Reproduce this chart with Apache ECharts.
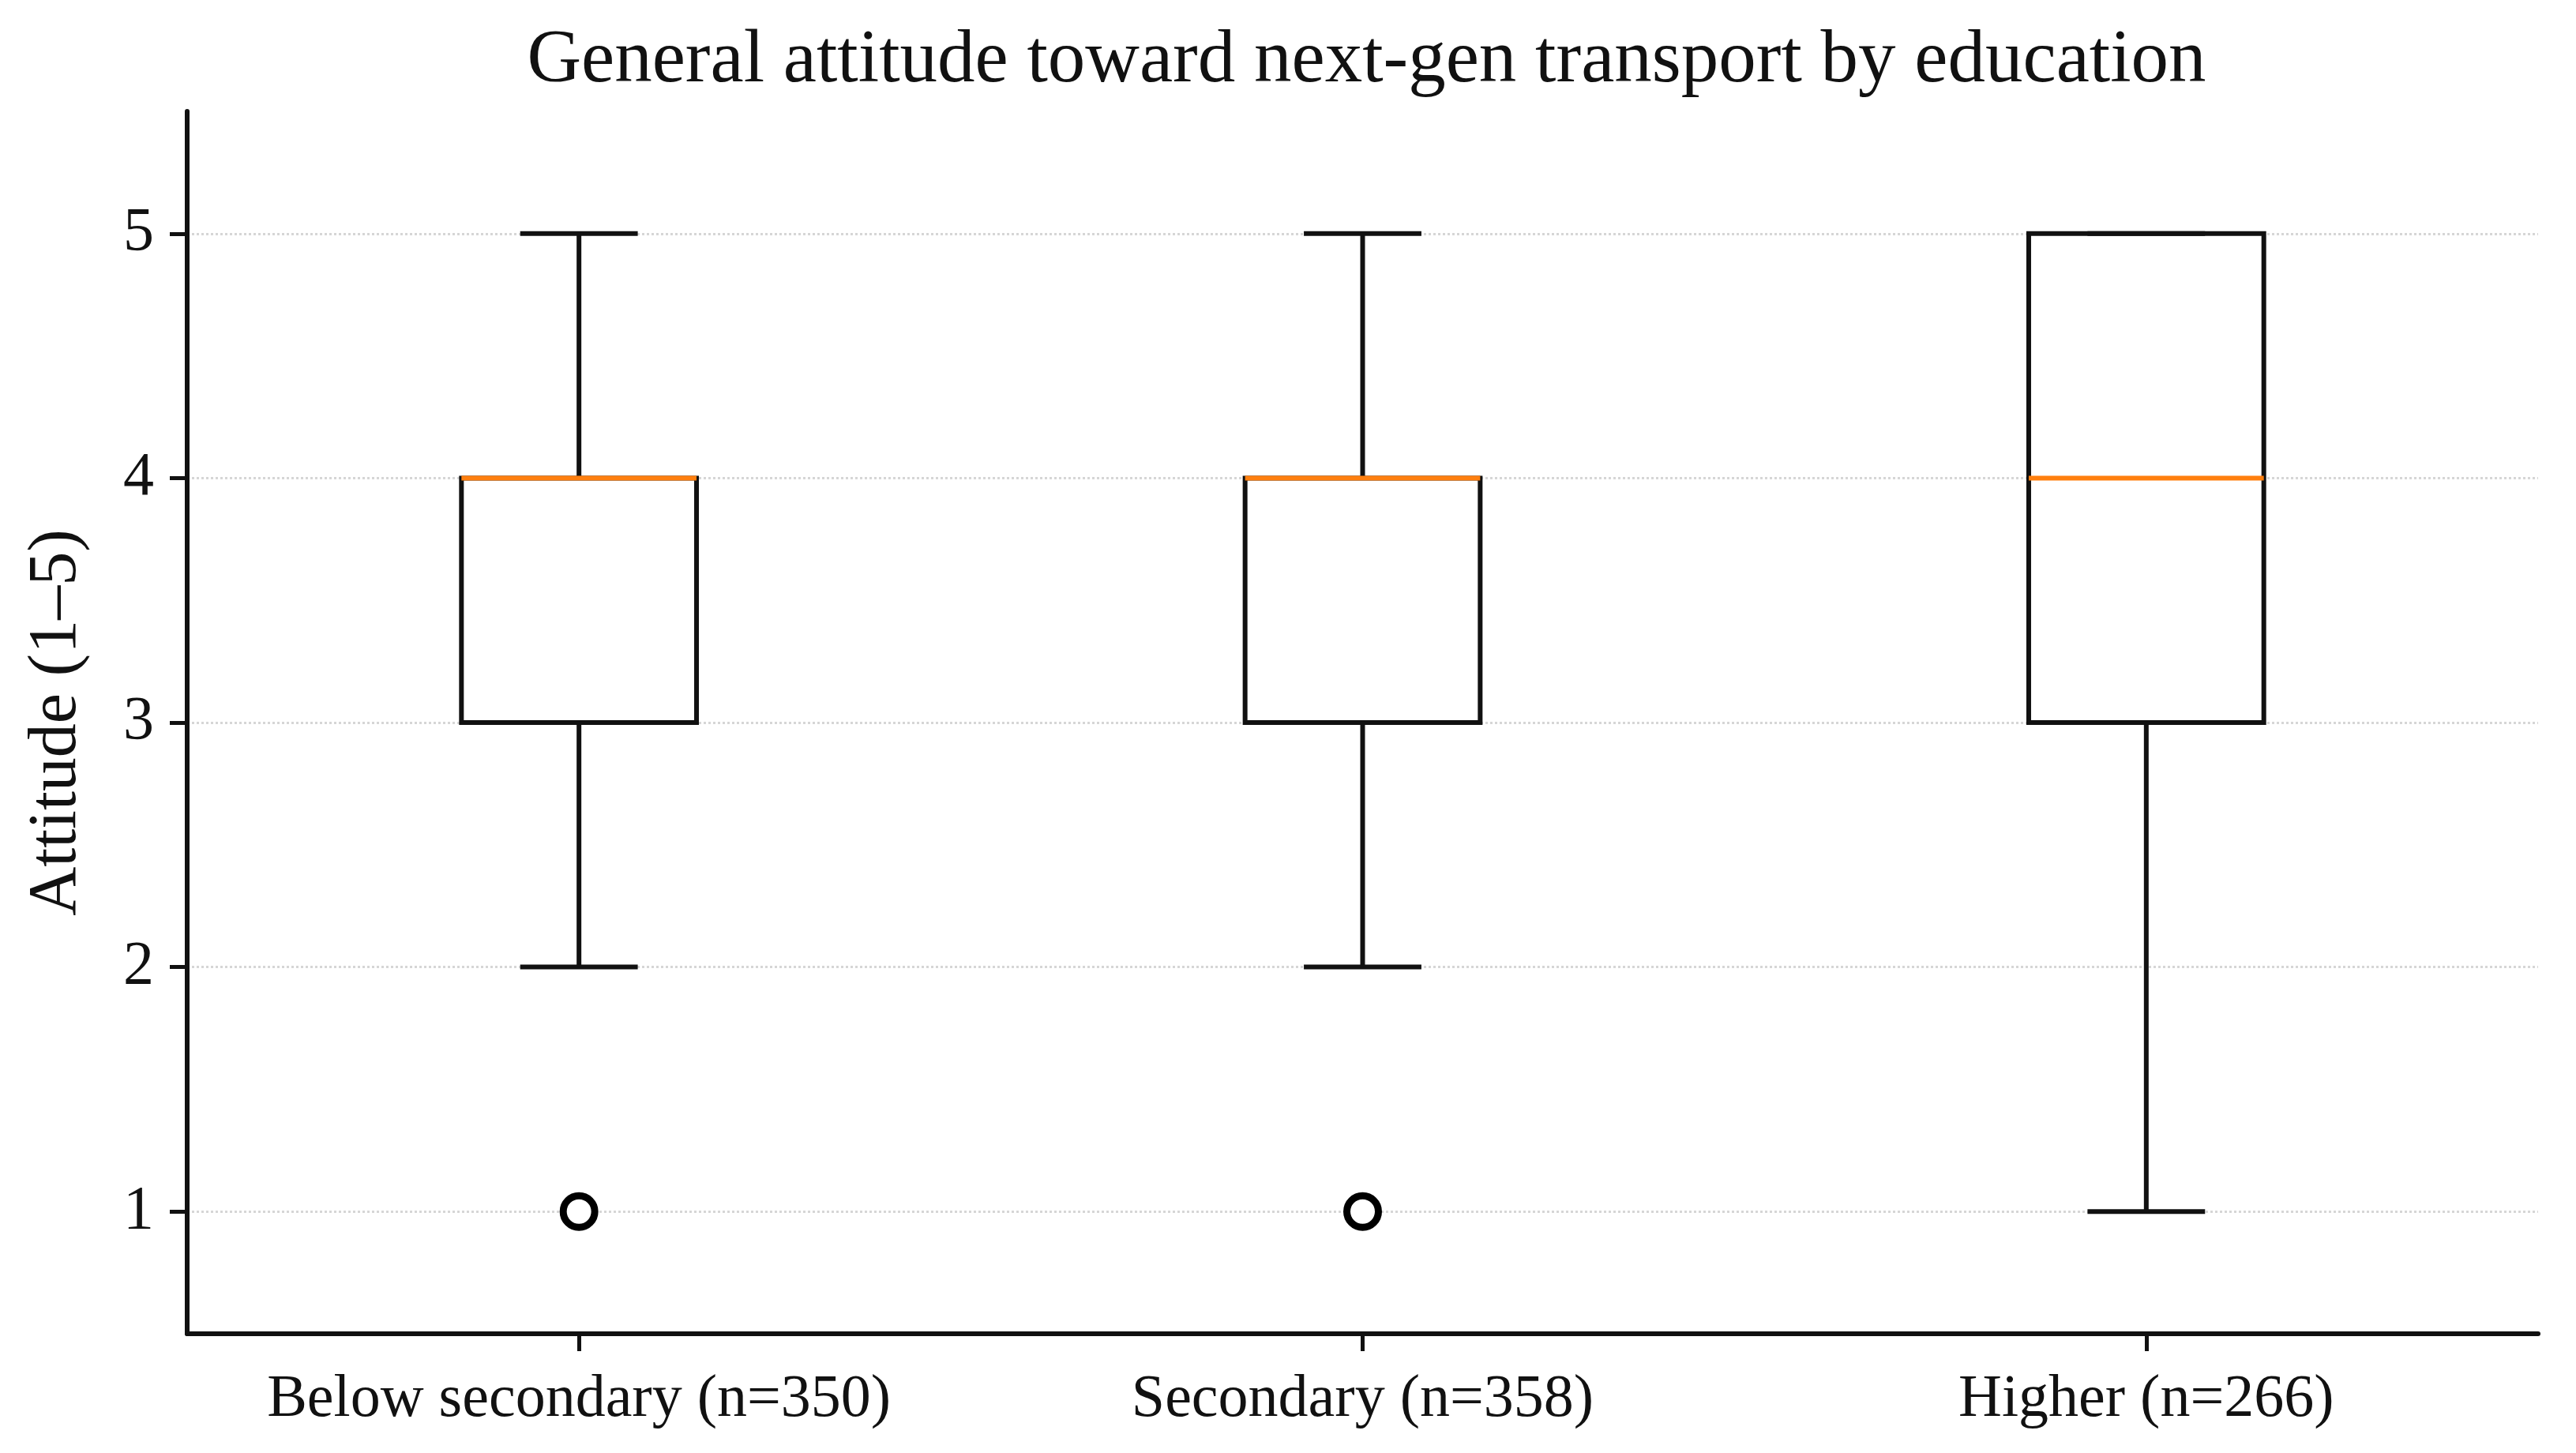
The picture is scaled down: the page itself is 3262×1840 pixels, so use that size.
<!DOCTYPE html>
<html>
<head>
<meta charset="utf-8">
<script src="https://cdn.jsdelivr.net/npm/echarts@6/dist/echarts.min.js"></script>
<style>
html,body{margin:0;padding:0;background:#fff;}
#chart{width:3262px;height:1840px;}
</style>
</head>
<body>
<div id="chart"></div>
<script>
// ---- data ----
const categories = ['Below secondary (n=350)', 'Secondary (n=358)', 'Higher (n=266)'];
const whiskerLow = [2, 2, 1];
const q1 = [3, 3, 3];
const median = [4, 4, 4];
const q3 = [4, 4, 5];
const whiskerHigh = [5, 5, 5];
const outliers = [[0, 1], [1, 1]]; // [category index, value]
const yTicks = [1, 2, 3, 4, 5];

const FONT = 'Liberation Serif';
const boxData = categories.map((c, i) => [i, whiskerLow[i], q1[i], median[i], q3[i], whiskerHigh[i]]);

const GRID = {left: 237, right: 48, top: 141, bottom: 151};
const W = 3262;
const plotCenter = GRID.left + (W - GRID.left - GRID.right) / 2;

const chart = echarts.init(document.getElementById('chart'), null, {renderer: 'canvas'});

function renderBox(params, api) {
  const idx = api.value(0);
  const band = api.size([1, 0])[0];
  const boxW = band * 0.30;
  const capW = band * 0.15;
  const pLow = api.coord([idx, api.value(1)]);
  const pQ1 = api.coord([idx, api.value(2)]);
  const pMed = api.coord([idx, api.value(3)]);
  const pQ3 = api.coord([idx, api.value(4)]);
  const pHigh = api.coord([idx, api.value(5)]);
  const x = pLow[0];
  const black = {stroke: '#111', lineWidth: 6, fill: null};
  return {
    type: 'group',
    children: [
      {type: 'line', shape: {x1: x, y1: pLow[1], x2: x, y2: pQ1[1]}, style: black},
      {type: 'line', shape: {x1: x, y1: pQ3[1], x2: x, y2: pHigh[1]}, style: black},
      {type: 'line', shape: {x1: x - capW / 2, y1: pLow[1], x2: x + capW / 2, y2: pLow[1]}, style: black},
      {type: 'line', shape: {x1: x - capW / 2, y1: pHigh[1], x2: x + capW / 2, y2: pHigh[1]}, style: black},
      {type: 'rect', shape: {x: x - boxW / 2, y: pQ3[1], width: boxW, height: pQ1[1] - pQ3[1]}, style: {stroke: '#111', lineWidth: 6, fill: 'none'}},
      {type: 'line', shape: {x1: x - boxW / 2, y1: pMed[1], x2: x + boxW / 2, y2: pMed[1]}, style: {stroke: '#ff7f0e', lineWidth: 6}}
    ]
  };
}

chart.setOption({
  animation: false,
  backgroundColor: '#fff',
  title: {
    text: 'General attitude toward next-gen transport by education',
    left: plotCenter,
    textAlign: 'center',
    top: 26,
    textStyle: {fontFamily: FONT, fontSize: 95, fontWeight: 'normal', color: '#111'}
  },
  grid: {left: GRID.left, right: GRID.right, top: GRID.top, bottom: GRID.bottom, containLabel: false},
  xAxis: {
    type: 'category',
    data: categories,
    boundaryGap: true,
    axisLine: {show: true, lineStyle: {color: '#111', width: 6}},
    axisTick: {show: true, alignWithLabel: true, length: 22, lineStyle: {color: '#111', width: 5}},
    axisLabel: {fontFamily: FONT, fontSize: 76, color: '#111', margin: 46, interval: 0},
    splitLine: {show: false}
  },
  yAxis: {
    type: 'value',
    min: 0.5,
    max: 5.5,
    name: 'Attitude (1–5)',
    nameLocation: 'middle',
    nameGap: 122,
    nameTextStyle: {fontFamily: FONT, fontSize: 86, color: '#111'},
    axisLine: {show: true, lineStyle: {color: '#111', width: 6}},
    axisTick: {show: true, length: 22, customValues: yTicks, lineStyle: {color: '#111', width: 5}},
    axisLabel: {fontFamily: FONT, fontSize: 78, color: '#111', margin: 42, customValues: yTicks},
    splitLine: {show: true, lineStyle: {type: 'dotted', color: '#d6d6d6', width: 3}}
  },
  series: [
    {
      type: 'custom',
      renderItem: renderBox,
      encode: {x: 0, y: [1, 2, 3, 4, 5]},
      data: boxData,
      z: 3
    },
    {
      type: 'scatter',
      data: outliers,
      symbol: 'circle',
      symbolSize: 40,
      itemStyle: {color: '#fff', borderColor: '#000', borderWidth: 9, opacity: 1},
      z: 4
    }
  ]
});
</script>
</body>
</html>
